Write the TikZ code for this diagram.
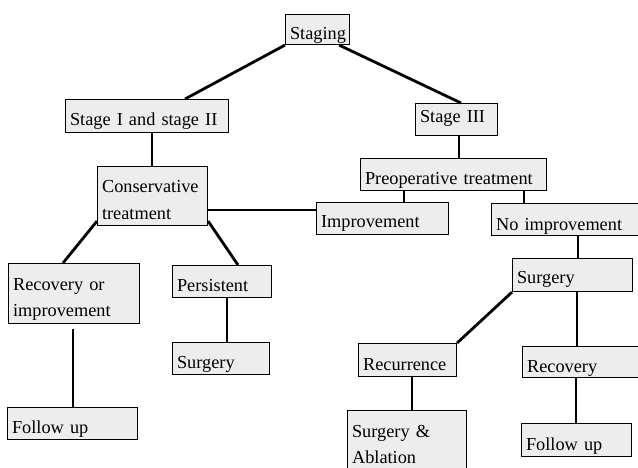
\documentclass[tikz,border=0pt]{standalone}
\usepackage{fontspec}
\setmainfont{Liberation Serif}
\usetikzlibrary{calc}
\begin{document}
\begin{tikzpicture}[x=1pt,y=-1pt,
  bx/.style={draw=black, line width=1.1pt, fill=black!7, anchor=north west,
    inner xsep=4.5pt, inner ysep=0pt, align=left,
    font=\fontsize{18.3}{26.5}\selectfont},
  one/.style={text height=19pt, text depth=0pt},
  two/.style={text height=19.5pt, text depth=26.5pt},
  ln/.style={line width=2.8pt}]
\clip (0,0) rectangle (638,468);
\fill[white] (0,0) rectangle (638,468);
\newcommand\bxn[7]{\node[bx, #7, minimum height=#5-#3, text width=#4-#2-9] (#1) at (#2,#3) {#6};}
\bxn{staging}{285}{14}{349}{44}{Staging}{one}
\bxn{s12}{65}{99}{228}{132}{Stage I and stage II}{one}
\bxn{s3}{415}{103}{497}{135}{Stage III}{one, text height=6pt}
\bxn{cons}{97}{166}{207}{225}{Conservative\\treatment}{two}
\bxn{preop}{360}{158}{546}{190}{Preoperative treatment}{one}
\bxn{impr}{316}{202}{448}{234}{Improvement}{one, text height=17pt}
\bxn{noimp}{491}{203}{650}{235}{No improvement}{one, text height=21pt}
\bxn{recimp}{8}{263}{139}{323}{Recovery or\\improvement}{two}
\bxn{pers}{172}{265}{271}{297}{Persistent}{one, text height=20pt}
\bxn{surgL}{172}{342}{269}{374}{Surgery}{one}
\bxn{folL}{7}{407}{137}{439}{Follow up}{one}
\bxn{surgR}{512}{258}{632}{291}{Surgery}{one, text height=17pt}
\bxn{recur}{358}{343}{456}{376}{Recurrence}{one, text height=21pt}
\bxn{recov}{522}{346}{650}{377}{Recovery}{one, text height=21pt}
\bxn{sabl}{347}{410}{466}{470}{Surgery \&\\Ablation}{two}
\bxn{folR}{521}{423}{631}{456}{Follow up}{one, text height=21pt}
% connectors
\draw[ln] (staging.south west) -- ([xshift=120pt]s12.north west);
\draw[ln] ([xshift=-11pt]staging.south east) -- ([xshift=46pt]s3.north west);
\draw[ln] ([xshift=87pt]s12.south west) -- ([xshift=55pt]cons.north west);
\draw[ln] ([xshift=44pt]s3.south west) -- ([xshift=99pt]preop.north west);
\draw[ln] ([xshift=44pt]preop.south west) -- ([xshift=88pt]impr.north west);
\draw[ln] ([xshift=164pt]preop.south west) -- ([xshift=33pt]noimp.north west);
\draw[ln] ([yshift=-44pt]cons.north east) -- ([yshift=-8pt]impr.north west);
\draw[ln] ([yshift=5pt]cons.south west) -- ([xshift=55pt]recimp.north west);
\draw[ln] ([yshift=5pt]cons.south east) -- ([xshift=66pt]pers.north west);
\draw[ln] ([xshift=55pt]pers.south west) -- ([xshift=55pt]surgL.north west);
\draw[ln] ([xshift=65pt,yshift=-5pt]recimp.south west) -- ([xshift=66pt]folL.north west);
\draw[ln] ([xshift=87pt]noimp.south west) -- ([xshift=66pt]surgR.north west);
\draw[ln] (surgR.south west) -- (recur.north east);
\draw[ln] ([xshift=65pt]surgR.south west) -- ([xshift=55pt]recov.north west);
\draw[ln] ([xshift=54pt]recur.south west) -- ([xshift=65pt]sabl.north west);
\draw[ln] ([xshift=54pt]recov.south west) -- ([xshift=55pt]folR.north west);
\end{tikzpicture}
\end{document}
